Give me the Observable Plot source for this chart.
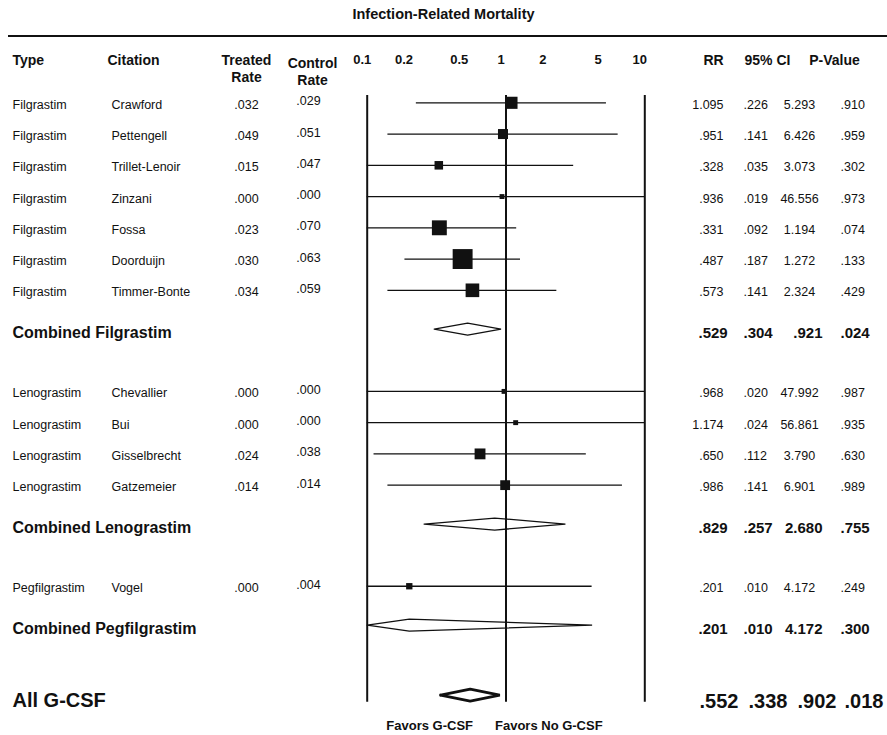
<!DOCTYPE html>
<html>
<head>
<meta charset="utf-8">
<script src="https://cdn.jsdelivr.net/npm/d3@7"></script>
<script src="https://cdn.jsdelivr.net/npm/@observablehq/plot@0.6"></script>
<style>
  body { margin: 0; background: #fff; font-family: "Liberation Sans", Arial, sans-serif; }
  #title { height: 35px; line-height: 29px; text-align: center; font-weight: bold; font-size: 14.5px; color: #111; }
  #rule { margin-left: 8px; border-top: 2px solid #111; }
</style>
</head>
<body>
<div id="title">Infection-Related Mortality</div>
<div id="rule"></div>
<div id="chart"></div>
<script>
// ---------- data ----------
const groups = ["Filgrastim", "Lenograstim", "Pegfilgrastim"];
const studyType = ["Filgrastim","Filgrastim","Filgrastim","Filgrastim","Filgrastim","Filgrastim","Filgrastim",
                   "Lenograstim","Lenograstim","Lenograstim","Lenograstim","Pegfilgrastim"];
const citation = ["Crawford","Pettengell","Trillet-Lenoir","Zinzani","Fossa","Doorduijn","Timmer-Bonte",
                  "Chevallier","Bui","Gisselbrecht","Gatzemeier","Vogel"];
const treatedRate = [.032,.049,.015,.000,.023,.030,.034,.000,.000,.024,.014,.000];
const controlRate = [.029,.051,.047,.000,.070,.063,.059,.000,.000,.038,.014,.004];
const rr     = [1.095,.951,.328,.936,.331,.487,.573,.968,1.174,.650,.986,.201];
const ciLow  = [.226,.141,.035,.019,.092,.187,.141,.020,.024,.112,.141,.010];
const ciHigh = [5.293,6.426,3.073,46.556,1.194,1.272,2.324,47.992,56.861,3.790,6.901,4.172];
const pValue = [.910,.959,.302,.973,.074,.133,.429,.987,.935,.630,.989,.249];

const combinedLabel = ["Combined Filgrastim","Combined Lenograstim","Combined Pegfilgrastim","All G-CSF"];
const combinedRR    = [.529,.829,.201,.552];
const combinedLow   = [.304,.257,.010,.338];
const combinedHigh  = [.921,2.680,4.172,.902];
const combinedP     = [.024,.755,.300,.018];

const axisTicks = [0.1, 0.2, 0.5, 1, 2, 5, 10];
const headerLabels = ["Type","Citation","Treated\nRate","Control\nRate","RR","95% CI","P-Value"];
const favorsLabels = ["Favors G-CSF","Favors No G-CSF"];

// ---------- helpers / layout ----------
const fmt = v => v.toFixed(3).replace(/^0\./, ".");
const XMIN = 0.1, XMAX = 10;
const clampX = v => Math.min(XMAX, Math.max(XMIN, v));

const studies = [], combined = [];
let pos = 0, prev = null;
groups.forEach((g, gi) => {
  citation.forEach((c, i) => {
    if (studyType[i] !== g) return;
    if (prev) pos += prev === "study" ? 1 : 1.99;
    prev = "study";
    const w = (3.92 / Math.log(ciHigh[i] / ciLow[i])) ** 2; // inverse-variance weight
    studies.push({type: g, citation: c, treated: fmt(treatedRate[i]), control: fmt(controlRate[i]),
      rr: rr[i], lo: ciLow[i], hi: ciHigh[i], p: pValue[i], w, y: pos});
  });
  pos += 1.245; prev = "combined";
  combined.push({label: combinedLabel[gi], rr: combinedRR[gi], lo: combinedLow[gi], hi: combinedHigh[gi], p: combinedP[gi], y: pos});
});
pos += 2.24;
const overall = [{label: combinedLabel[3], rr: combinedRR[3], lo: combinedLow[3], hi: combinedHigh[3], p: combinedP[3], y: pos}];

const H = 0.192;
const diamond = d => {
  const lo = clampX(d.lo), hi = clampX(d.hi);
  return [[lo, d.y], [d.rr, d.y - H], [hi, d.y], [d.rr, d.y + H], [lo, d.y]].map(([x, y]) => ({id: d.label, x, y}));
};
const subDiamonds = combined.flatMap(diamond);
const allDiamond = overall.flatMap(diamond);

const yTop = -0.233, yBottom = overall[0].y + 0.225;
const font = "'Liberation Sans', Arial, sans-serif";
const ink = "#111";
const M = "middle";

const plot = Plot.plot({
  width: 887,
  height: 698,
  margin: 0,
  x: {type: "log", domain: [XMIN, XMAX], range: [366.7, 644.3], axis: null},
  y: {domain: [0, 1], range: [65.3, 96.55], axis: null},
  r: {type: "sqrt", domain: [0, 1], range: [0, 5.5]},
  style: {fontFamily: font, color: ink, background: "#fff", overflow: "visible"},
  marks: [
    // vertical boundary & null lines
    Plot.ruleX([XMIN, 1, XMAX], {y1: yTop, y2: yBottom, stroke: ink, strokeWidth: 2}),
    // confidence intervals
    Plot.ruleY(studies, {y: "y", x1: d => clampX(d.lo), x2: d => clampX(d.hi), stroke: ink, strokeWidth: 1.3}),
    // study squares (area proportional to weight)
    Plot.dot(studies, {x: "rr", y: "y", r: "w", symbol: "square", fill: ink, stroke: null}),
    // subgroup diamonds
    Plot.line(subDiamonds, {x: "x", y: "y", z: "id", stroke: ink, strokeWidth: 1.3, strokeLinejoin: "miter"}),
    Plot.line(allDiamond, {x: "x", y: "y", z: "id", stroke: ink, strokeWidth: 3, strokeLinejoin: "miter"}),

    // header row
    Plot.text([headerLabels[0]], {frameAnchor: "top-left", lineAnchor: M, dx: 12, dy: 23, textAnchor: "start", fontWeight: "bold", fontSize: 14}),
    Plot.text([headerLabels[1]], {frameAnchor: "top-left", lineAnchor: M, dx: 107, dy: 23, textAnchor: "start", fontWeight: "bold", fontSize: 14}),
    Plot.text([headerLabels[2]], {frameAnchor: "top-left", lineAnchor: M, dx: 246, dy: 30.5, textAnchor: "middle", fontWeight: "bold", fontSize: 14, lineHeight: 1.22}),
    Plot.text([headerLabels[3]], {frameAnchor: "top-left", lineAnchor: M, dx: 312, dy: 33.5, textAnchor: "middle", fontWeight: "bold", fontSize: 14, lineHeight: 1.22}),
    Plot.text([headerLabels[4]], {frameAnchor: "top-left", lineAnchor: M, dx: 713, dy: 23, textAnchor: "middle", fontWeight: "bold", fontSize: 14}),
    Plot.text([headerLabels[5]], {frameAnchor: "top-left", lineAnchor: M, dx: 767, dy: 23, textAnchor: "middle", fontWeight: "bold", fontSize: 14}),
    Plot.text([headerLabels[6]], {frameAnchor: "top-left", lineAnchor: M, dx: 834, dy: 23, textAnchor: "middle", fontWeight: "bold", fontSize: 14}),
    Plot.text(axisTicks, {x: d => d, frameAnchor: "top", lineAnchor: M, dy: 22, dx: -5, text: d => String(d), textAnchor: "middle", fontWeight: "bold", fontSize: 13}),

    // study rows
    Plot.text(studies, {y: "y", text: "type", frameAnchor: "left", lineAnchor: M, dx: 12, dy: 2, textAnchor: "start", fontSize: 12.5}),
    Plot.text(studies, {y: "y", text: "citation", frameAnchor: "left", lineAnchor: M, dx: 111, dy: 2, textAnchor: "start", fontSize: 12.5}),
    Plot.text(studies, {y: "y", text: "treated", frameAnchor: "left", lineAnchor: M, dx: 246, dy: 2, textAnchor: "middle", fontSize: 12.5}),
    Plot.text(studies, {y: "y", text: "control", frameAnchor: "left", lineAnchor: M, dx: 308, dy: -1.5, textAnchor: "middle", fontSize: 12.5}),
    Plot.text(studies, {y: "y", text: d => fmt(d.rr), frameAnchor: "left", lineAnchor: M, dx: 723, dy: 2, textAnchor: "end", fontSize: 12.5}),
    Plot.text(studies, {y: "y", text: d => fmt(d.lo), frameAnchor: "left", lineAnchor: M, dx: 743, dy: 2, textAnchor: "start", fontSize: 12.5}),
    Plot.text(studies, {y: "y", text: d => fmt(d.hi), frameAnchor: "left", lineAnchor: M, dx: 799, dy: 2, textAnchor: "middle", fontSize: 12.5}),
    Plot.text(studies, {y: "y", text: d => fmt(d.p), frameAnchor: "left", lineAnchor: M, dx: 840, dy: 2, textAnchor: "start", fontSize: 12.5}),

    // combined rows
    Plot.text(combined, {y: "y", text: "label", frameAnchor: "left", lineAnchor: M, dx: 12, dy: 3.5, textAnchor: "start", fontWeight: "bold", fontSize: 16}),
    Plot.text(combined, {y: "y", text: d => fmt(d.rr), frameAnchor: "left", lineAnchor: M, dx: 698, dy: 4, textAnchor: "start", fontWeight: "bold", fontSize: 15}),
    Plot.text(combined, {y: "y", text: d => fmt(d.lo), frameAnchor: "left", lineAnchor: M, dx: 743, dy: 4, textAnchor: "start", fontWeight: "bold", fontSize: 15}),
    Plot.text(combined, {y: "y", text: d => fmt(d.hi), frameAnchor: "left", lineAnchor: M, dx: 822, dy: 4, textAnchor: "end", fontWeight: "bold", fontSize: 15}),
    Plot.text(combined, {y: "y", text: d => fmt(d.p), frameAnchor: "left", lineAnchor: M, dx: 840, dy: 4, textAnchor: "start", fontWeight: "bold", fontSize: 15}),

    // overall row
    Plot.text(overall, {y: "y", text: "label", frameAnchor: "left", lineAnchor: M, dx: 12, dy: 5, textAnchor: "start", fontWeight: "bold", fontSize: 20}),
    Plot.text(overall, {y: "y", text: d => fmt(d.rr), frameAnchor: "left", lineAnchor: M, dx: 699, dy: 6, textAnchor: "start", fontWeight: "bold", fontSize: 20}),
    Plot.text(overall, {y: "y", text: d => fmt(d.lo), frameAnchor: "left", lineAnchor: M, dx: 748, dy: 6, textAnchor: "start", fontWeight: "bold", fontSize: 20}),
    Plot.text(overall, {y: "y", text: d => fmt(d.hi), frameAnchor: "left", lineAnchor: M, dx: 797, dy: 6, textAnchor: "start", fontWeight: "bold", fontSize: 20}),
    Plot.text(overall, {y: "y", text: d => fmt(d.p), frameAnchor: "left", lineAnchor: M, dx: 844, dy: 6, textAnchor: "start", fontWeight: "bold", fontSize: 20}),

    // favors labels
    Plot.text([favorsLabels[0]], {x: () => 1, frameAnchor: "bottom", lineAnchor: M, dy: -9.3, dx: -33, textAnchor: "end", fontWeight: "bold", fontSize: 13}),
    Plot.text([favorsLabels[1]], {x: () => 1, frameAnchor: "bottom", lineAnchor: M, dy: -9.3, dx: -11, textAnchor: "start", fontWeight: "bold", fontSize: 13})
  ]
});
document.getElementById("chart").appendChild(plot);
</script>
</body>
</html>
